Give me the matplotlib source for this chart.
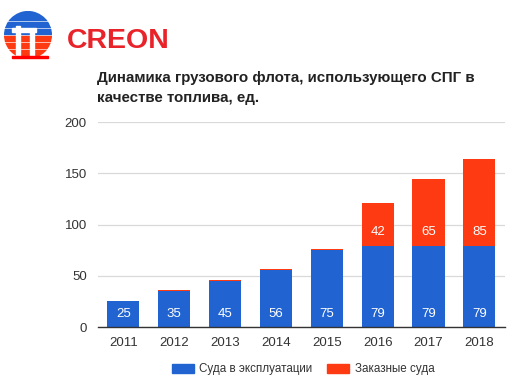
import matplotlib.pyplot as plt
from matplotlib.patches import Circle, Rectangle

plt.rcParams['font.family'] = ['Liberation Sans', 'DejaVu Sans']

years = ['2011', '2012', '2013', '2014', '2015', '2016', '2017', '2018']
in_service = [25, 35, 45, 56, 75, 79, 79, 79]
on_order = [0.8, 0.8, 0.8, 0.8, 0.8, 42, 65, 85]
yticks = [0, 50, 100, 150, 200]

blue = '#2063d1'
red = '#fe3a12'

fig = plt.figure(figsize=(5.13, 3.9), dpi=100)
ax = fig.add_axes([0.191, 0.1615, 0.793, 0.5255])

x = range(len(years))
ax.bar(x, in_service, width=0.63, color=blue, zorder=3)
ax.bar(x, on_order, width=0.63, bottom=in_service, color=red, zorder=3)

for i in x:
    ax.text(i, 13, str(in_service[i]), color='white', ha='center', va='center',
            fontsize=9.5, zorder=4)
    if on_order[i] >= 5:
        ax.text(i, in_service[i] + 13.5, str(on_order[i]), color='white',
                ha='center', va='center', fontsize=9.5, zorder=4)

ax.set_xlim(-0.5, len(years) - 0.5)
ax.set_ylim(0, 200)
ax.set_yticks(yticks)
ax.set_xticks(list(x))
ax.set_xticklabels(years)
ax.tick_params(length=0, labelsize=9.5, colors='#333333')
ax.tick_params(axis='y', pad=8)
ax.tick_params(axis='x', pad=7)
ax.grid(axis='y', color='#d9d9d9', linewidth=0.9, zorder=0)
for s in ['top', 'right', 'left']:
    ax.spines[s].set_visible(False)
ax.spines['bottom'].set_color('#333333')
ax.spines['bottom'].set_linewidth(1.0)
ax.spines['bottom'].set_zorder(5)

# title
fig.text(97 / 513, 1 - 78 / 390, 'Динамика грузового флота, использующего СПГ в',
         fontsize=10.9, fontweight='bold', color='#222222', va='center')
fig.text(97 / 513, 1 - 98 / 390, 'качестве топлива, ед.',
         fontsize=10.9, fontweight='bold', color='#222222', va='center')

# legend
fig.patches.append(Rectangle((172 / 513, 1 - 373 / 390), 22 / 513, 9 / 390,
                             transform=fig.transFigure, color=blue))
fig.text(199 / 513, 1 - 369 / 390, 'Суда в эксплуатации', fontsize=8.4,
         color='#333333', va='center')
fig.patches.append(Rectangle((327 / 513, 1 - 373 / 390), 22 / 513, 9 / 390,
                             transform=fig.transFigure, color=red))
fig.text(355 / 513, 1 - 369 / 390, 'Заказные суда', fontsize=8.4,
         color='#333333', va='center')

# logo
lax = fig.add_axes([0, 1 - 60 / 390, 60 / 513, 50 / 390])
lax.set_xlim(0, 60)
lax.set_ylim(0, 50)
lax.axis('off')
globe = Circle((28, 25), 24, transform=lax.transData)
stripes = [(40, 49, blue), (33, 38, blue), (26, 31, blue),
           (19, 24, red), (12, 17, red), (4, 10, red)]
for y0, y1, c in stripes:
    r = Rectangle((0, y0), 60, y1 - y0, color=c)
    lax.add_patch(r)
    r.set_clip_path(globe)
lax.add_patch(Rectangle((16, 2), 4, 32, color='white'))
lax.add_patch(Rectangle((12, 28), 24, 4, color='white'))
lax.add_patch(Rectangle((30, 2), 4, 28, color='white'))
lax.add_patch(Rectangle((12, 2), 36, 2.5, color='red'))
fig.text(67 / 513, 1 - 41 / 390, 'CREON', fontsize=20.5, fontweight='bold',
         color='#e8232a', va='center')

fig.savefig('out.png', dpi=100)
